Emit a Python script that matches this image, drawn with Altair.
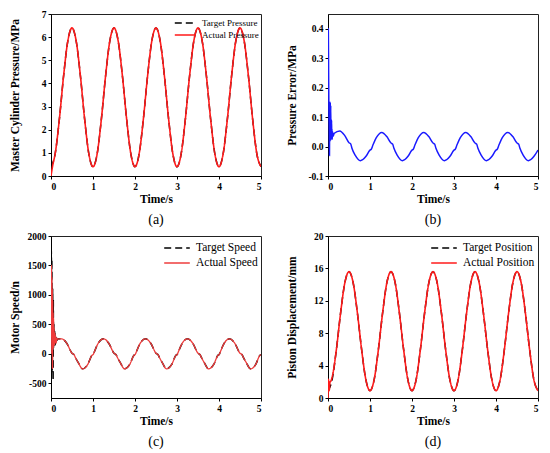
import altair as alt
import pandas as pd

FONT = "Liberation Serif"

# ---------------- (a) master cylinder pressure ----------------
t_a = [0.0, 0.1, 0.2, 0.3, 0.4, 0.5, 0.6, 0.7, 0.8, 0.9,
       1.0, 1.1, 1.2, 1.3, 1.4, 1.5, 1.6, 1.7, 1.8, 1.9,
       2.0, 2.1, 2.2, 2.3, 2.4, 2.5, 2.6, 2.7, 2.8, 2.9,
       3.0, 3.1, 3.2, 3.3, 3.4, 3.5, 3.6, 3.7, 3.8, 3.9,
       4.0, 4.1, 4.2, 4.3, 4.4, 4.5, 4.6, 4.7, 4.8, 4.9, 5.0]
target_pressure = [0.4, 0.97, 2.47, 4.33, 5.83, 6.4, 5.83, 4.33, 2.47, 0.97,
                   0.4, 0.97, 2.47, 4.33, 5.83, 6.4, 5.83, 4.33, 2.47, 0.97,
                   0.4, 0.97, 2.47, 4.33, 5.83, 6.4, 5.83, 4.33, 2.47, 0.97,
                   0.4, 0.97, 2.47, 4.33, 5.83, 6.4, 5.83, 4.33, 2.47, 0.97,
                   0.4, 0.97, 2.47, 4.33, 5.83, 6.4, 5.83, 4.33, 2.47, 0.97, 0.4]
t_a_actual = [0.0, 0.04] + t_a[1:]
actual_pressure = [0.0, 0.45] + target_pressure[1:]

# ---------------- (b) pressure error ----------------
t_b = [0.0, 0.008, 0.015, 0.022, 0.03, 0.035, 0.04, 0.045, 0.05, 0.055,
       0.06, 0.065, 0.07, 0.075, 0.08, 0.085, 0.09, 0.095, 0.1, 0.11,
       0.12, 0.15, 0.28, 0.4, 0.5, 0.54, 0.57, 0.65, 0.77, 0.9,
       1.0, 1.03, 1.07, 1.15, 1.28, 1.4, 1.5, 1.54, 1.57, 1.65, 1.77, 1.9,
       2.0, 2.03, 2.07, 2.15, 2.28, 2.4, 2.5, 2.54, 2.57, 2.65, 2.77, 2.9,
       3.0, 3.03, 3.07, 3.15, 3.28, 3.4, 3.5, 3.54, 3.57, 3.65, 3.77, 3.9,
       4.0, 4.03, 4.07, 4.15, 4.28, 4.4, 4.5, 4.54, 4.57, 4.65, 4.77, 4.9,
       5.0]
pressure_error = [0.35, 0.40, 0.25, 0.12, 0.05, -0.03, 0.10, 0.15, 0.03, 0.15,
                  0.02, 0.14, 0.03, 0.09, 0.025, 0.09, 0.03, 0.06, 0.025, 0.05,
                  0.035, 0.045, 0.053, 0.037, 0.013, 0.009, -0.006, -0.03, -0.048, -0.034,
                  -0.012, -0.009, 0.005, 0.03, 0.048, 0.034, 0.012, 0.008, -0.006, -0.03, -0.048, -0.034,
                  -0.012, -0.009, 0.005, 0.03, 0.048, 0.034, 0.012, 0.008, -0.006, -0.03, -0.048, -0.034,
                  -0.012, -0.009, 0.005, 0.03, 0.048, 0.034, 0.012, 0.008, -0.006, -0.03, -0.048, -0.034,
                  -0.012, -0.009, 0.005, 0.03, 0.048, 0.034, 0.012, 0.008, -0.006, -0.03, -0.048, -0.034,
                  -0.012]

# ---------------- (c) motor speed ----------------
t_c_tail = [0.25, 0.375, 0.5, 0.55, 0.58, 0.65, 0.75, 0.875, 0.97,
            1.01, 1.03, 1.125, 1.25, 1.375, 1.5, 1.55, 1.58, 1.65, 1.75, 1.875, 1.97,
            2.01, 2.03, 2.125, 2.25, 2.375, 2.5, 2.55, 2.58, 2.65, 2.75, 2.875, 2.97,
            3.01, 3.03, 3.125, 3.25, 3.375, 3.5, 3.55, 3.58, 3.65, 3.75, 3.875, 3.97,
            4.01, 4.03, 4.125, 4.25, 4.375, 4.5, 4.55, 4.58, 4.65, 4.75, 4.875, 4.97,
            5.0]
speed_tail = [255, 180, 10, -15, -60, -150, -255, -180, -30,
              -5, 30, 180, 255, 180, 10, -15, -60, -150, -255, -180, -30,
              -5, 30, 180, 255, 180, 10, -15, -60, -150, -255, -180, -30,
              -5, 30, 180, 255, 180, 10, -15, -60, -150, -255, -180, -30,
              -5, 30, 180, 255, 180, 10, -15, -60, -150, -255, -180, -30,
              -15]
t_c_actual_start = [0.0, 0.008, 0.015, 0.02, 0.025, 0.03, 0.035, 0.04, 0.045, 0.05,
                    0.055, 0.06, 0.065, 0.07, 0.08, 0.09, 0.1, 0.11, 0.12, 0.14, 0.17]
actual_speed_start = [0, 1500, 800, 1300, 300, 1100, -250, 900, 200, 700,
                      100, 600, 150, 450, 150, 350, 200, 300, 180, 260, 250]
t_c_target_start = [0.0, 0.008, 0.015, 0.02, 0.03, 0.04, 0.05, 0.055, 0.06, 0.07,
                    0.08, 0.09, 0.1, 0.12, 0.14, 0.17]
target_speed_start = [0, 1750, 600, 1600, -300, 1100, -450, 900, 100, 500,
                      150, 400, 150, 300, 230, 250]

# ---------------- (d) piston displacement ----------------
target_position = [0.9, 2.3, 6.0, 10.5, 14.2, 15.6, 14.2, 10.5, 6.0, 2.3,
                   0.9, 2.3, 6.0, 10.5, 14.2, 15.6, 14.2, 10.5, 6.0, 2.3,
                   0.9, 2.3, 6.0, 10.5, 14.2, 15.6, 14.2, 10.5, 6.0, 2.3,
                   0.9, 2.3, 6.0, 10.5, 14.2, 15.6, 14.2, 10.5, 6.0, 2.3,
                   0.9, 2.3, 6.0, 10.5, 14.2, 15.6, 14.2, 10.5, 6.0, 2.3, 0.9]
t_d_actual_start = [0.0, 0.01, 0.02, 0.03, 0.04, 0.05, 0.07, 0.1]
actual_position_start = [0.0, 2.3, 1.5, 0.9, 1.6, 2.0, 2.1, 2.6]

W, H = 210, 162


def long_df(pairs):
    rows = []
    for name, ts, vs in pairs:
        for t, v in zip(ts, vs):
            rows.append({"t": t, "v": v, "s": name})
    return pd.DataFrame(rows)


def x_enc():
    return alt.X("t:Q", scale=alt.Scale(domain=[0, 5], nice=False, zero=False),
                 axis=alt.Axis(values=[0, 1, 2, 3, 4, 5], format="d", title="Time/s"))


def y_enc(title, domain, values, fmt):
    expr = ("datum.value < 0 ? '-' + format(-datum.value, '%s') : format(datum.value, '%s')"
            % (fmt, fmt))
    return alt.Y("v:Q", scale=alt.Scale(domain=domain, nice=False, zero=False),
                 axis=alt.Axis(values=values, title=title, labelExpr=expr))


def caption_title(text):
    return alt.TitleParams(text=text, orient="bottom", font=FONT, fontSize=14,
                           fontWeight="normal", offset=8, color="black")


def two_line_panel(df, names, red, ytitle, domain, values, fmt, caption,
                   lfont, sym_path, sym_size, loff, lab_off, red_w):
    leg = alt.Legend(title=None, orient="top-right", offset=loff, padding=0,
                     labelFont=FONT, labelFontSize=lfont, labelFontWeight="normal",
                     labelColor="black", symbolType=sym_path, symbolSize=sym_size,
                     symbolStrokeWidth=1.5, rowPadding=0, labelOffset=lab_off)
    color = alt.Color("s:N", scale=alt.Scale(domain=names, range=["black", red]), legend=leg)
    dash = alt.StrokeDash("s:N", scale=alt.Scale(domain=names, range=[[7, 4], [1, 0]]), legend=leg)
    base = alt.Chart(df)
    target = base.transform_filter(alt.datum.s == names[0]).mark_line(
        strokeWidth=1.5, interpolate="monotone", clip=True
    ).encode(x=x_enc(), y=y_enc(ytitle, domain, values, fmt), color=color, strokeDash=dash)
    actual = base.transform_filter(alt.datum.s == names[1]).mark_line(
        strokeWidth=red_w, interpolate="monotone", clip=True
    ).encode(x=x_enc(), y=y_enc(ytitle, domain, values, fmt), color=color, strokeDash=dash)
    return alt.layer(target, actual).properties(width=W, height=H, title=caption_title(caption))


df_a = long_df([("Target Pressure", t_a, target_pressure),
                ("Actual Pressure", t_a_actual, actual_pressure)])
panel_a = two_line_panel(df_a, ["Target Pressure", "Actual Pressure"], "#ff1a1a",
                         "Master Cylinder Pressure/MPa", [0, 7], [0, 1, 2, 3, 4, 5, 6, 7], "d",
                         "(a)", 9, "M-1.7,0L1.7,0", 144, 2, 10, 1.6)

df_b = long_df([("Error", t_b, pressure_error)])
panel_b = alt.Chart(df_b).mark_line(color="#1a1aff", strokeWidth=1.5, interpolate="monotone", clip=True).encode(
    x=x_enc(), y=y_enc("Pressure Error/MPa", [-0.1, 0.45], [-0.1, 0.0, 0.1, 0.2, 0.3, 0.4], ".1f")
).properties(width=W, height=H, title=caption_title("(b)"))

df_c = long_df([("Target Speed", t_c_target_start + t_c_tail, target_speed_start + speed_tail),
                ("Actual Speed", t_c_actual_start + t_c_tail, actual_speed_start + speed_tail)])
panel_c = two_line_panel(df_c, ["Target Speed", "Actual Speed"], "#ee3b3b",
                         "Motor Speed/n", [-750, 2000], [-500, 0, 500, 1000, 1500, 2000], "d",
                         "(c)", 11.5, "M-1.6,0L1.6,0", 256, 3, 10, 1.3)

df_d = long_df([("Target Position", t_a, target_position),
                ("Actual Position", t_d_actual_start + t_a[2:], actual_position_start + target_position[2:])])
panel_d = two_line_panel(df_d, ["Target Position", "Actual Position"], "#ff1a1a",
                         "Piston Displacement/mm", [0, 20], [0, 4, 8, 12, 16, 20], "d",
                         "(d)", 11.5, "M-1.6,0L1.6,0", 256, 3, 10, 1.6)

IND = dict(color="independent", strokeDash="independent")

row1 = alt.hconcat(panel_a, panel_b, spacing=23).resolve_scale(**IND).resolve_legend(**IND)
row2 = alt.hconcat(panel_c, panel_d, spacing=23).resolve_scale(**IND).resolve_legend(**IND)

chart = alt.vconcat(row1, row2, spacing=2).resolve_scale(**IND).resolve_legend(**IND).properties(
    padding=0
).configure_view(stroke="#222222", strokeWidth=1).configure_axis(
    labelFont=FONT, labelFontSize=9.5, labelFontWeight="bold", labelColor="black",
    titleFont=FONT, titleFontSize=11.5, titleFontWeight="bold", titleColor="black",
    tickColor="black", domainColor="black", tickSize=3, labelPadding=2, grid=False,
    titlePadding=3
).configure_axisY(minExtent=25, maxExtent=25, titlePadding=6).configure_axisX(titlePadding=3)

chart.save("out.html", embed_options={"renderer": "svg", "actions": False})
